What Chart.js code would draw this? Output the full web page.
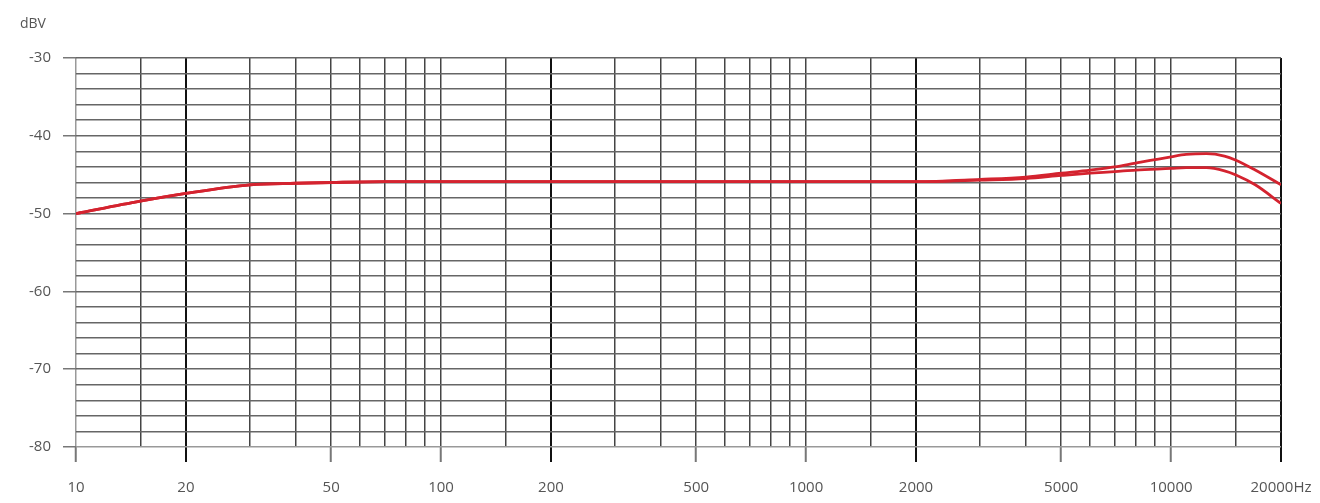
<!DOCTYPE html>
<html>
<head>
<meta charset="utf-8">
<script src="https://cdn.jsdelivr.net/npm/chart.js@4.4.0/dist/chart.umd.min.js"></script>
<style>
  html, body { margin: 0; padding: 0; background: #fff; }
  #wrap { width: 1320px; height: 503px; }
</style>
</head>
<body>
<div id="wrap"><canvas id="myChart" width="1320" height="503"></canvas></div>
<script>
// frequency points (Hz) the two curves were read at
var freqs = [10, 15, 20, 30, 40, 50, 70, 100, 200, 500, 1000, 2000, 3000, 4000, 5000, 6000, 7000, 8000, 10000, 11000, 12500, 14000, 15000, 17000, 20000];
var upperCurve = [-50.0, -48.4, -47.4, -46.3, -46.1, -46.0, -45.9, -45.9, -45.9, -45.9, -45.9, -45.9, -45.6, -45.3, -44.8, -44.4, -44.0, -43.5, -42.7, -42.4, -42.3, -42.6, -43.1, -44.4, -46.3];
var lowerCurve = [-50.0, -48.4, -47.4, -46.3, -46.1, -46.0, -45.9, -45.9, -45.9, -45.9, -45.9, -45.9, -45.7, -45.5, -45.1, -44.8, -44.6, -44.4, -44.2, -44.1, -44.1, -44.5, -45.0, -46.3, -48.7];

// vertical grid lines and which of them get a label
var gridFreqs = [10, 15, 20, 30, 40, 50, 60, 70, 80, 90, 100, 150, 200, 300, 400, 500, 600, 700, 800, 900,
  1000, 1500, 2000, 3000, 4000, 5000, 6000, 7000, 8000, 9000, 10000, 15000, 20000];
var freqLabels = [10, 20, 50, 100, 200, 500, 1000, 2000, 5000, 10000, 20000];
var darkFreqs = [20, 200, 2000, 20000];
// horizontal grid every 2 dB, labels every 10 dB
var dbGrid = [-80, -78, -76, -74, -72, -70, -68, -66, -64, -62, -60, -58, -56, -54, -52, -50,
  -48, -46, -44, -42, -40, -38, -36, -34, -32, -30];
var dbTicks = [-30, -40, -50, -60, -70, -80];

function toPoints(ys) {
  return freqs.map(function (f, i) { return { x: f, y: ys[i] }; });
}

var dbvLabel = {
  id: 'dbvLabel',
  afterDraw: function (chart) {
    var ctx = chart.ctx;
    ctx.save();
    ctx.font = '14px "Open Sans"';
    ctx.fillStyle = '#555';
    ctx.textBaseline = 'middle';
    ctx.textAlign = 'left';
    ctx.fillText('dBV', 20, 24);
    ctx.restore();
  }
};

var ctx = document.getElementById('myChart').getContext('2d');
var chart = new Chart(ctx, {
  type: 'line',
  data: {
    datasets: [{
      data: toPoints(upperCurve),
      borderColor: '#d4232f',
      borderWidth: 2.8,
      pointRadius: 0,
      cubicInterpolationMode: 'monotone'
    }, {
      data: toPoints(lowerCurve),
      borderColor: '#d4232f',
      borderWidth: 2.8,
      pointRadius: 0,
      cubicInterpolationMode: 'monotone'
    }]
  },
  options: {
    responsive: false,
    animation: false,
    devicePixelRatio: 1,
    layout: { padding: { left: 0, right: 39, top: 58, bottom: 0 } },
    plugins: { legend: { display: false }, tooltip: { enabled: false } },
    scales: {
      x: {
        type: 'logarithmic',
        min: 10,
        max: 20000,
        afterBuildTicks: function (scale) {
          scale.ticks = gridFreqs.map(function (v) { return { value: v }; });
        },
        afterFit: function (scale) {
          scale.height = 56;
          scale.paddingLeft = 0;
          scale.paddingRight = 0;
        },
        border: { display: false },
        grid: {
          color: function (c) {
            var v = c.tick ? c.tick.value : 0;
            if (v === 10) return '#999';
            return darkFreqs.indexOf(v) >= 0 ? '#111' : '#444';
          },
          lineWidth: function (c) {
            var v = c.tick ? c.tick.value : 0;
            return darkFreqs.indexOf(v) >= 0 ? 2 : 1.5;
          },
          tickLength: 15,
          tickColor: function (c) {
            var v = c.tick ? c.tick.value : 0;
            if (freqLabels.indexOf(v) < 0) return 'rgba(0,0,0,0)';
            return darkFreqs.indexOf(v) >= 0 ? '#111' : '#777';
          },
          tickWidth: 2
        },
        ticks: {
          autoSkip: false,
          maxRotation: 0,
          padding: 17,
          color: '#555',
          font: { family: 'Open Sans', size: 15 },
          callback: function (value) {
            if (freqLabels.indexOf(value) < 0) return '';
            return value === 20000 ? '20000Hz' : String(value);
          }
        }
      },
      y: {
        min: -80,
        max: -30,
        afterBuildTicks: function (scale) {
          scale.ticks = dbGrid.map(function (v) { return { value: v }; });
        },
        afterFit: function (scale) {
          scale.width = 76;
          scale.paddingTop = 0;
          scale.paddingBottom = 0;
        },
        border: { display: false },
        grid: {
          color: function (c) {
            var v = c.tick ? c.tick.value : 0;
            return v === -80 ? '#999' : '#666';
          },
          lineWidth: 1.5,
          tickLength: 13,
          tickColor: function (c) {
            var v = c.tick ? c.tick.value : 0;
            return dbTicks.indexOf(v) >= 0 ? '#777' : 'rgba(0,0,0,0)';
          }
        },
        ticks: {
          autoSkip: false,
          padding: 12,
          color: '#555',
          font: { family: 'Open Sans', size: 15 },
          callback: function (value) {
            return dbTicks.indexOf(value) >= 0 ? String(value) : '';
          }
        }
      }
    }
  },
  plugins: [dbvLabel]
});
</script>
</body>
</html>
